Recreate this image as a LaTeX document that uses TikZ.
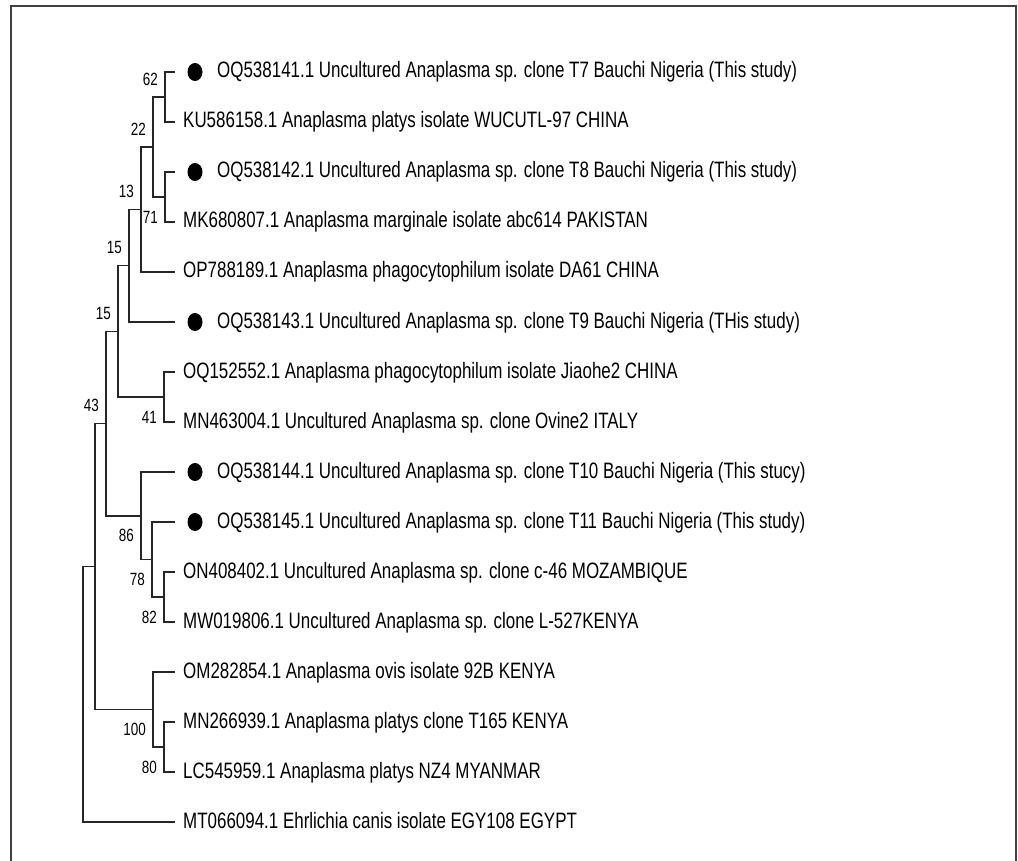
\documentclass[tikz,border=0pt]{standalone}
\usepackage{fontspec}
\setmainfont{Liberation Sans}[FakeStretch=0.76]
\usetikzlibrary{shapes.geometric}

\tikzset{
    branch/.style={line width=1.5pt, color=black!85},
    frame/.style={line width=1.8pt, color=black!75},
    leaf/.style={anchor=base west, inner sep=0pt, yshift=-6pt, font=\fontsize{22.3}{26}\selectfont},
    dot/.style={ellipse, fill=black, inner sep=0pt, minimum width=15pt, minimum height=18pt},
    bsup/.style={anchor=east, inner sep=0pt, xshift=-7pt, yshift=18pt, font=\fontsize{17.7}{20}\selectfont},
    bsdown/.style={anchor=east, inner sep=0pt, xshift=-7pt, yshift=-20pt, font=\fontsize{17.7}{20}\selectfont}
}

\begin{document}
\begin{tikzpicture}[x=1pt, y=-1pt]
\useasboundingbox (0,0) rectangle (1018,861);
\draw[frame] (11,861) |- (1016,6) -- (1016,861);

% leaf tips
\foreach \i/\y in {1/72, 2/122, 3/172, 4/222, 5/272, 6/322, 7/372, 8/422,
                   9/472, 10/522, 11/572, 12/622, 13/672, 14/722, 15/772, 16/822}
    \coordinate (l\i) at (175, \y);

% inner nodes
\coordinate (n62) at (165, 97);
\coordinate (n71) at (165, 197);
\coordinate (n22) at (153, 147);
\coordinate (n13) at (141, 209.5);
\coordinate (n15a) at (129, 265.75);
\coordinate (n41) at (164, 397);
\coordinate (n15b) at (118, 331.4);
\coordinate (n82) at (164, 597);
\coordinate (n78) at (152, 559.5);
\coordinate (n86) at (141, 515.75);
\coordinate (n43) at (106, 423.6);
\coordinate (n80) at (164, 747);
\coordinate (n100) at (153, 709.5);
\coordinate (nA) at (95, 566.5);
\coordinate (root) at (83, 694);

% branches
\draw[branch] (l1) -| (n62) |- (l2);
\draw[branch] (l3) -| (n71) |- (l4);
\draw[branch] (n62) -| (n22) |- (n71);
\draw[branch] (n22) -| (n13) |- (l5);
\draw[branch] (n13) -| (n15a) |- (l6);
\draw[branch] (l7) -| (n41) |- (l8);
\draw[branch] (n15a) -| (n15b) |- (n41);
\draw[branch] (l11) -| (n82) |- (l12);
\draw[branch] (l10) -| (n78) |- (n82);
\draw[branch] (l9) -| (n86) |- (n78);
\draw[branch] (n15b) -| (n43) |- (n86);
\draw[branch] (l14) -| (n80) |- (l15);
\draw[branch] (l13) -| (n100) |- (n80);
\draw[branch] (n43) -| (nA) |- (n100);
\draw[branch] (nA) -| (root) |- (l16);

% bootstrap values
\node[bsup] (b62) at (n62) {62};
\node[bsup] (b22) at (n22) {22};
\node[bsup] (b13) at (n13) {13};
\node[bsup] (b15a) at (n15a) {15};
\node[bsup] (b15b) at (n15b) {15};
\node[bsup] (b43) at (n43) {43};
\node[bsdown] (b71) at (n71) {71};
\node[bsdown] (b41) at (n41) {41};
\node[bsdown] (b86) at (n86) {86};
\node[bsdown] (b78) at (n78) {78};
\node[bsdown] (b82) at (n82) {82};
\node[bsdown] (b100) at (n100) {100};
\node[bsdown] (b80) at (n80) {80};

% study sequences
\foreach \i in {1, 3, 6, 9, 10}
    \node[dot] (d\i) at ([xshift=20pt]l\i) {};

% taxa
\node[leaf] (t1) at ([xshift=42pt]l1) {OQ538141.1 Uncultured Anaplasma sp. clone T7 Bauchi Nigeria (This study)};
\node[leaf] (t2) at ([xshift=8pt]l2) {KU586158.1 Anaplasma platys isolate WUCUTL-97 CHINA};
\node[leaf] (t3) at ([xshift=42pt]l3) {OQ538142.1 Uncultured Anaplasma sp. clone T8 Bauchi Nigeria (This study)};
\node[leaf] (t4) at ([xshift=8pt]l4) {MK680807.1 Anaplasma marginale isolate abc614 PAKISTAN};
\node[leaf] (t5) at ([xshift=8pt]l5) {OP788189.1 Anaplasma phagocytophilum isolate DA61 CHINA};
\node[leaf] (t6) at ([xshift=42pt]l6) {OQ538143.1 Uncultured Anaplasma sp. clone T9 Bauchi Nigeria (THis study)};
\node[leaf] (t7) at ([xshift=8pt]l7) {OQ152552.1 Anaplasma phagocytophilum isolate Jiaohe2 CHINA};
\node[leaf] (t8) at ([xshift=8pt]l8) {MN463004.1 Uncultured Anaplasma sp. clone Ovine2 ITALY};
\node[leaf] (t9) at ([xshift=42pt]l9) {OQ538144.1 Uncultured Anaplasma sp. clone T10 Bauchi Nigeria (This stucy)};
\node[leaf] (t10) at ([xshift=42pt]l10) {OQ538145.1 Uncultured Anaplasma sp. clone T11 Bauchi Nigeria (This study)};
\node[leaf] (t11) at ([xshift=8pt]l11) {ON408402.1 Uncultured Anaplasma sp. clone c-46 MOZAMBIQUE};
\node[leaf] (t12) at ([xshift=8pt]l12) {MW019806.1 Uncultured Anaplasma sp. clone L-527KENYA};
\node[leaf] (t13) at ([xshift=8pt]l13) {OM282854.1 Anaplasma ovis isolate 92B KENYA};
\node[leaf] (t14) at ([xshift=8pt]l14) {MN266939.1 Anaplasma platys clone T165 KENYA};
\node[leaf] (t15) at ([xshift=8pt]l15) {LC545959.1 Anaplasma platys NZ4 MYANMAR};
\node[leaf] (t16) at ([xshift=8pt]l16) {MT066094.1 Ehrlichia canis isolate EGY108 EGYPT};
\end{tikzpicture}
\end{document}
